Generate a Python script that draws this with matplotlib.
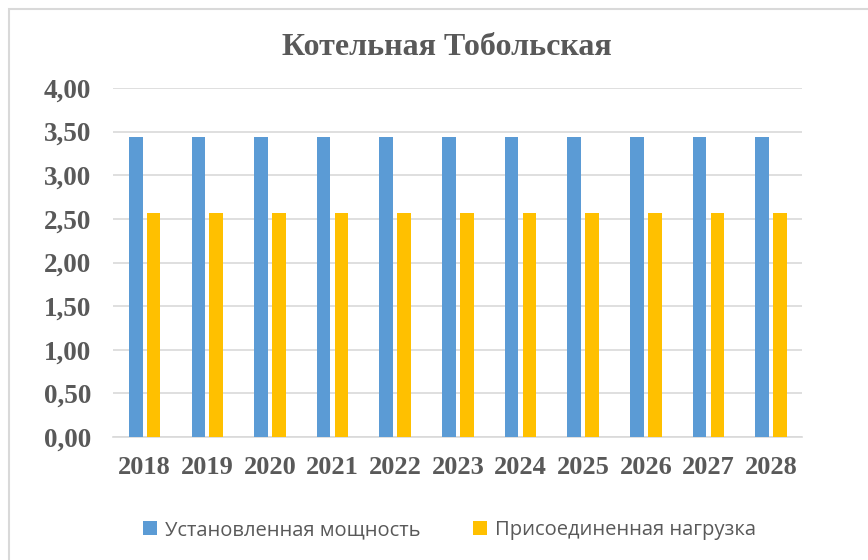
"""
Котельная Тобольская - установленная мощность и присоединенная нагрузка
"""
import matplotlib.pyplot as plt
from matplotlib.patches import Rectangle
import numpy as np

years = ["2018", "2019", "2020", "2021", "2022", "2023", "2024", "2025", "2026", "2027", "2028"]
installed = [3.44, 3.44, 3.44, 3.44, 3.44, 3.44, 3.44, 3.44, 3.44, 3.44, 3.44]
connected = [2.57, 2.57, 2.57, 2.57, 2.57, 2.57, 2.57, 2.57, 2.57, 2.57, 2.57]
series_names = ["Установленная мощность", "Присоединенная нагрузка"]

BLUE = "#5B9BD5"
ORANGE = "#FFC000"
TEXT = "#595959"
GRID = "#D9D9D9"

fig = plt.figure(figsize=(8.68, 5.6), dpi=100)
ax = fig.add_axes([0.1305, 0.2196, 0.794, 0.6232])

# chart frame (only left and top edges visible in the crop)
fig.patches.append(Rectangle((9 / 868, -0.1), 1.2, 1 - 8.5 / 560 + 0.1,
                             transform=fig.transFigure, fill=False,
                             edgecolor="#D9D9D9", linewidth=1.5))

x = np.arange(len(years))
width = 0.218
offset = 0.142
ax.bar(x - offset, installed, width, color=BLUE, label=series_names[0], zorder=3)
ax.bar(x + offset, connected, width, color=ORANGE, label=series_names[1], zorder=3)

ax.set_xlim(-0.5, len(years) - 0.5)
ax.set_ylim(0, 4.0)
yt = np.arange(0, 4.01, 0.5)
ax.set_yticks(yt)
ax.set_yticklabels([f"{v:.2f}".replace(".", ",") for v in yt],
                   fontsize=19.5, fontweight="bold", family="Liberation Serif", color=TEXT)
ax.set_xticks(x)
ax.set_xticklabels(years, fontsize=19, fontweight="bold", family="Liberation Serif", color=TEXT)
ax.tick_params(axis="both", length=0)
ax.tick_params(axis="y", pad=16)
ax.tick_params(axis="x", pad=14)

ax.grid(True, axis="y", color=GRID, linewidth=1.2, zorder=0)
for s in ["top", "right", "left"]:
    ax.spines[s].set_visible(False)
ax.spines["bottom"].set_color(GRID)
ax.spines["bottom"].set_linewidth(1.2)

fig.text(0.515, 0.916, "Котельная Тобольская", ha="center", va="center",
         fontsize=23, fontweight="bold", family="Liberation Serif", color=TEXT)

leg = fig.legend(loc="center", bbox_to_anchor=(0.518, 0.053), ncol=2, frameon=False,
                 prop={"family": "Open Sans", "size": 14.5}, handlelength=0.7,
                 handleheight=0.7, columnspacing=2.6, handletextpad=0.4)
for t in leg.get_texts():
    t.set_color(TEXT)

plt.savefig("out.png", dpi=100)
